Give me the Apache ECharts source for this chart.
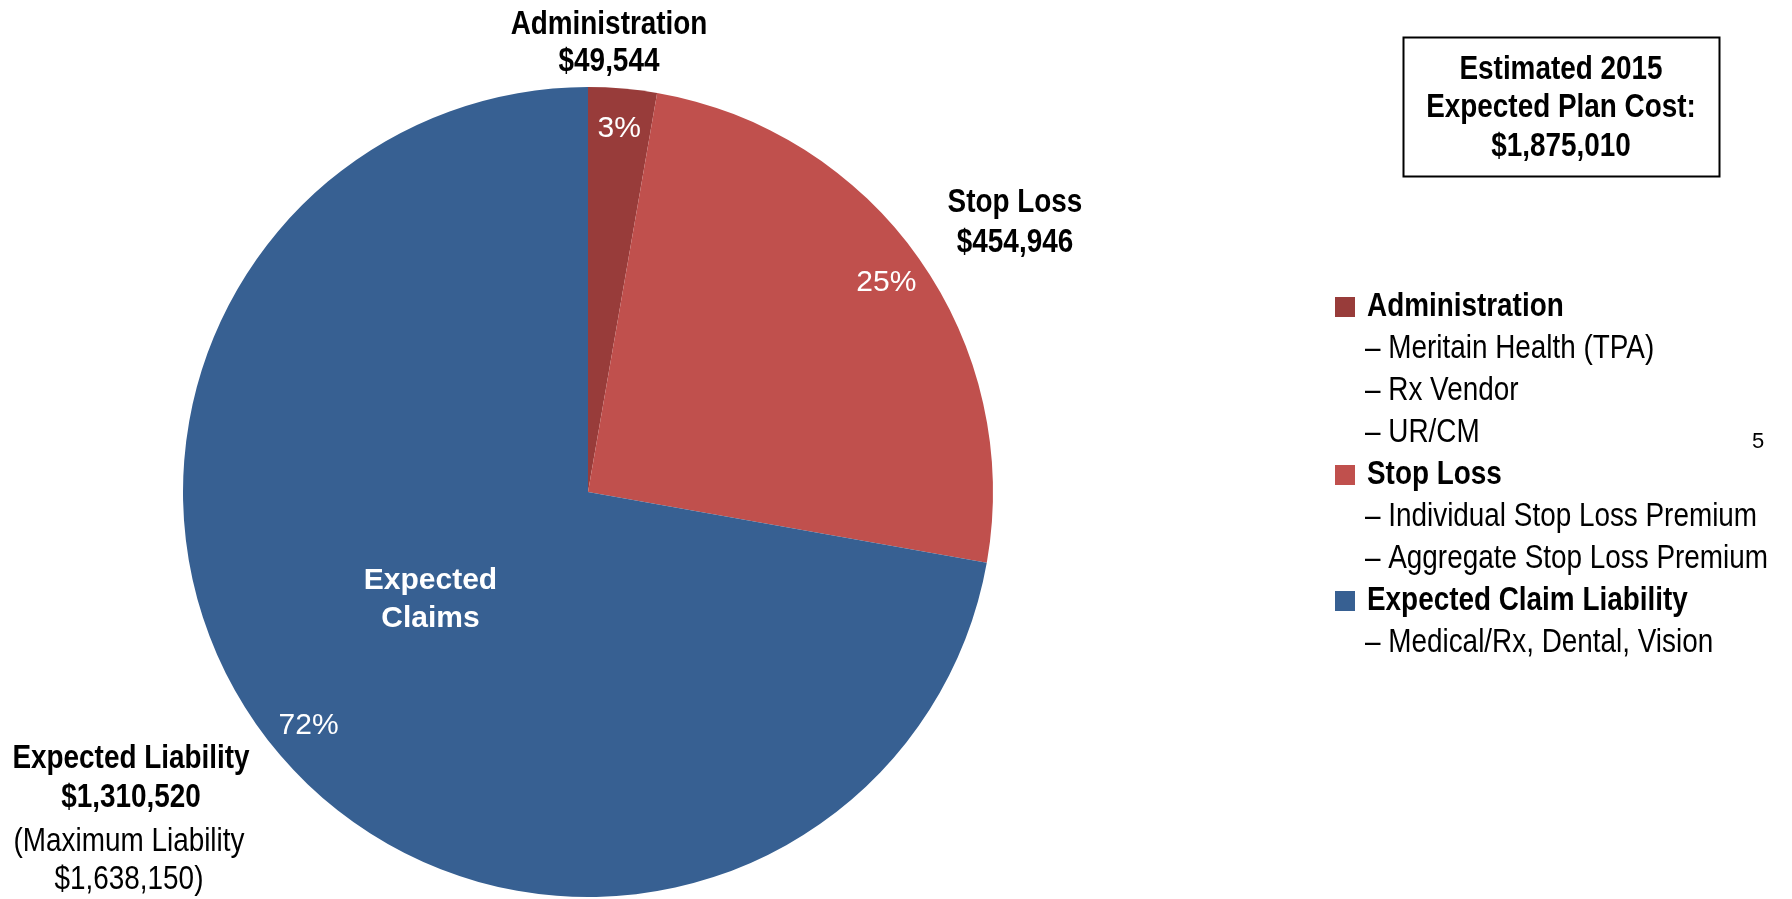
<!DOCTYPE html>
<html>
<head>
<meta charset="utf-8">
<title>Estimated 2015 Expected Plan Cost</title>
<script src="https://cdn.jsdelivr.net/npm/echarts@6/dist/echarts.min.js"></script>
<style>
  html, body { margin: 0; padding: 0; background: #ffffff; }
  #chart { width: 1792px; height: 899px; }
</style>
</head>
<body>
<div id="chart"></div>
<script>
// Plan cost components (dollars)
const categories = ['Administration', 'Stop Loss', 'Expected Claims'];
const costs = [49544, 454946, 1310520];
const sliceColors = ['#983C3A', '#C0504D', '#376092'];

// Call-out headings next to each slice
const calloutTitles = ['Administration', 'Stop Loss', 'Expected Liability'];
const maxLiability = 1638150;
const planCost = 1875010;
const planCostYear = 2015;

// Legend groups with their detail lines
const legendTitles = ['Administration', 'Stop Loss', 'Expected Claim Liability'];
const legendDetails = [
  ['Meritain Health (TPA)', 'Rx Vendor', 'UR/CM'],
  ['Individual Stop Loss Premium', 'Aggregate Stop Loss Premium'],
  ['Medical/Rx, Dental, Vision']
];
const pageNumber = '5';

const FONT = "'Liberation Sans', Arial, sans-serif";
const SX = 0.82; // horizontal squeeze for the condensed look

const money = v => '$' + v.toLocaleString('en-US');

const chart = echarts.init(document.getElementById('chart'), null, { renderer: 'canvas' });

const pieData = categories.map((name, i) => ({
  name, value: costs[i], itemStyle: { color: sliceColors[i] }
}));

function txt(x, y, text, opts) {
  opts = opts || {};
  return {
    type: 'text', x, y, scaleX: opts.sx || SX, silent: true,
    style: {
      text,
      textAlign: opts.align || 'center',
      textVerticalAlign: 'middle',
      fill: opts.color || '#000000',
      fontFamily: FONT,
      fontSize: opts.size || 34,
      fontWeight: opts.bold ? 'bold' : 'normal'
    }
  };
}

const g = [];
// slice call-outs
g.push(txt(609, 25, calloutTitles[0], { bold: true }));
g.push(txt(609, 62, money(costs[0]), { bold: true }));
g.push(txt(1015, 203, calloutTitles[1], { bold: true }));
g.push(txt(1015, 243, money(costs[1]), { bold: true }));
g.push(txt(131, 759, calloutTitles[2], { bold: true }));
g.push(txt(131, 798, money(costs[2]), { bold: true }));
g.push(txt(129, 842, '(Maximum Liability'));
g.push(txt(129, 880, money(maxLiability) + ')'));

// total cost box
g.push({
  type: 'rect', silent: true,
  shape: { x: 1403.5, y: 37.5, width: 316, height: 139 },
  style: { fill: '#ffffff', stroke: '#000000', lineWidth: 2 }
});
g.push(txt(1561, 70, 'Estimated ' + planCostYear, { bold: true }));
g.push(txt(1561, 108, 'Expected Plan Cost:', { bold: true }));
g.push(txt(1561, 147, money(planCost), { bold: true }));

// legend
const rowStep = 42;
let y = 307;
legendTitles.forEach((title, i) => {
  g.push({
    type: 'rect', silent: true,
    shape: { x: 1335, y: y - 10, width: 20, height: 20 },
    style: { fill: sliceColors[i] }
  });
  g.push(txt(1367, y, title, { bold: true, align: 'left' }));
  legendDetails[i].forEach(d => {
    y += rowStep;
    g.push(txt(1365, y, '\u2013 ' + d, { align: 'left' }));
  });
  y += rowStep;
});

// page number
g.push({
  type: 'text', x: 1758, y: 442, silent: true,
  style: { text: pageNumber, textAlign: 'center', textVerticalAlign: 'middle',
           fill: '#000000', fontFamily: FONT, fontSize: 22 }
});

chart.setOption({
  animation: false,
  backgroundColor: '#ffffff',
  series: [
    {
      // the pie itself, with the claims name inside its slice
      type: 'pie',
      center: [588, 492],
      radius: 405,
      startAngle: 90,
      clockwise: true,
      silent: true,
      data: pieData,
      itemStyle: { borderWidth: 0 },
      label: {
        show: true,
        position: 'inside',
        formatter: p => p.dataIndex === 2 ? 'Expected\nClaims' : '',
        color: '#ffffff',
        fontFamily: FONT,
        fontWeight: 'bold',
        fontSize: 30,
        lineHeight: 38
      },
      labelLine: { show: false },
      labelLayout: { dy: -24 }
    },
    {
      // percentage labels placed near the rim
      type: 'pie',
      center: [588, 492],
      radius: [318, 405],
      startAngle: 90,
      clockwise: true,
      silent: true,
      data: pieData.map(d => ({ name: d.name, value: d.value })),
      itemStyle: { color: 'rgba(0,0,0,0)', borderWidth: 0 },
      label: {
        show: true,
        position: 'inside',
        formatter: p => Math.round(p.percent) + '%',
        color: '#ffffff',
        fontFamily: FONT,
        fontSize: 30
      },
      labelLine: { show: false }
    }
  ],
  graphic: { elements: g }
});
</script>
</body>
</html>
